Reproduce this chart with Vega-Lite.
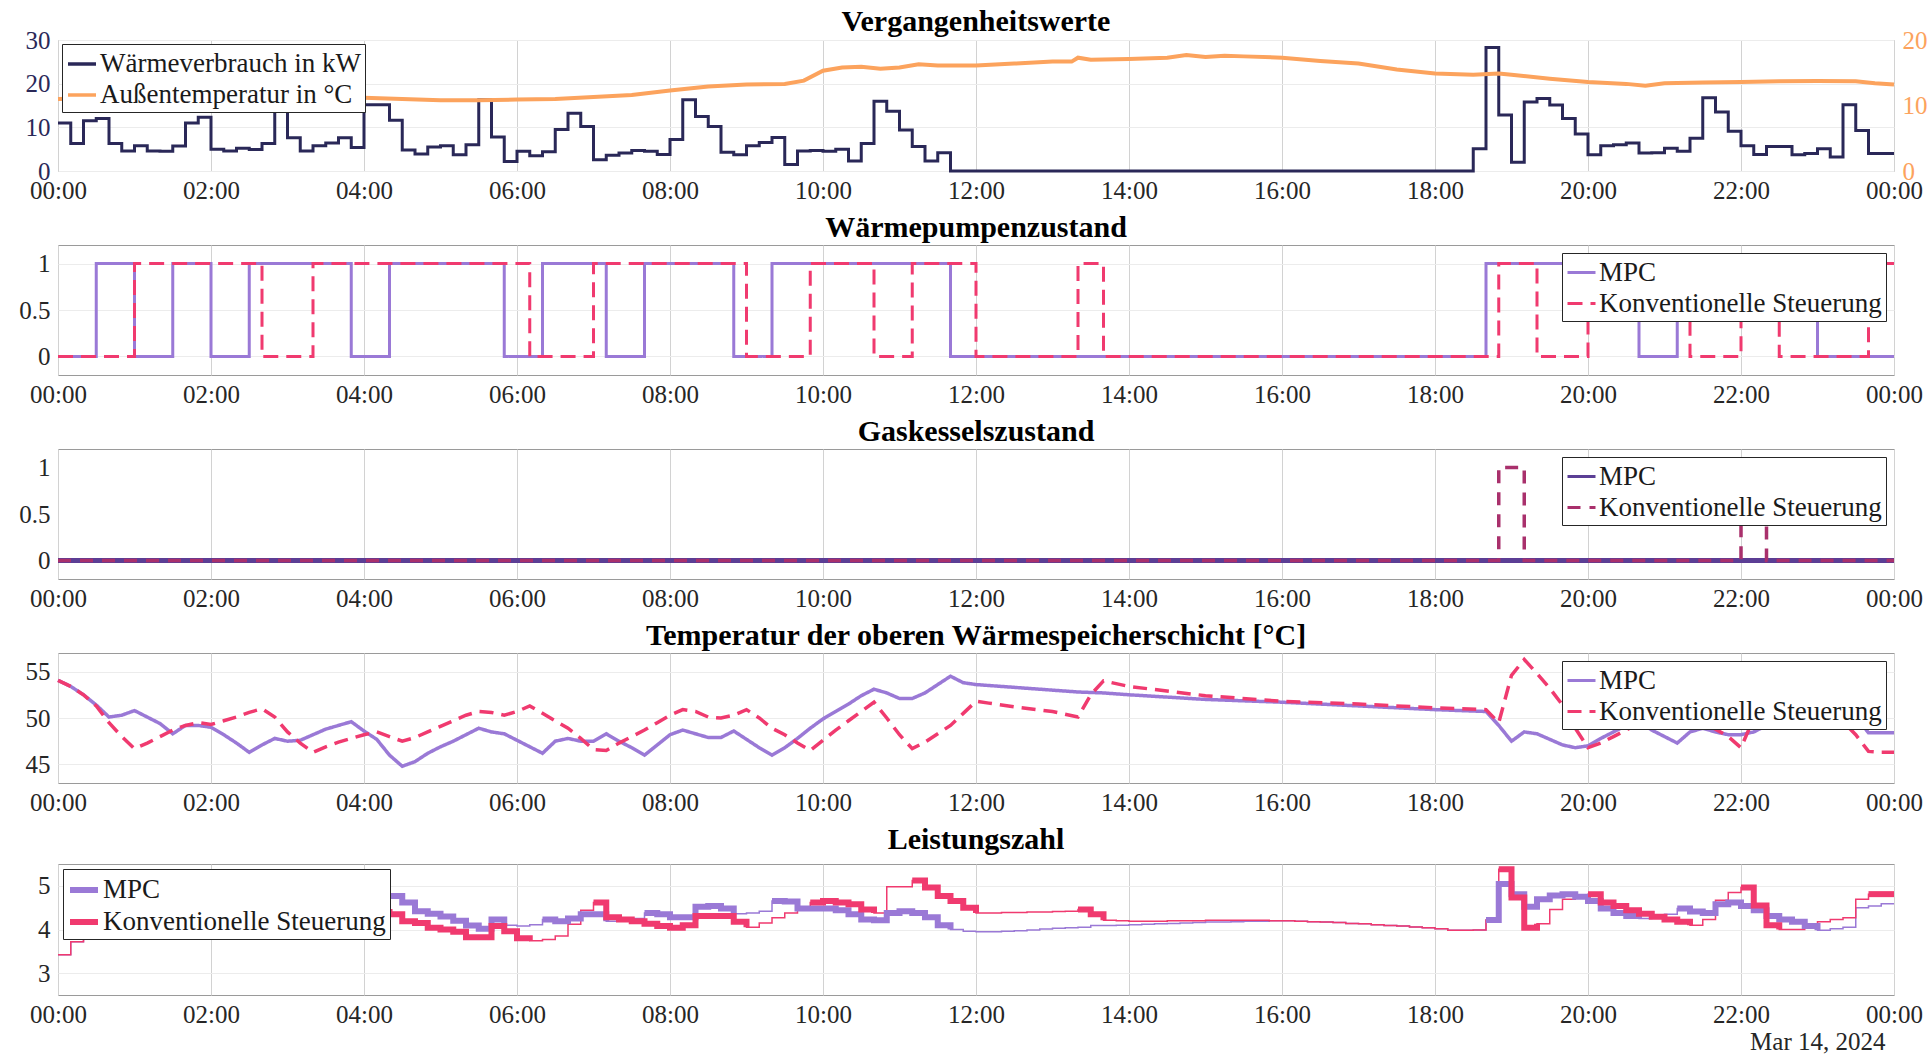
{
  "$schema": "https://vega.github.io/schema/vega-lite/v6.json",
  "padding": {"left": 12, "top": 6, "right": 0, "bottom": 0},
  "spacing": 8,
  "datasets": {
    "main": [
      {"m":0,"w":11,"hm":0,"hk":0,"gk":0,"cm":3.42,"ck":3.42},
      {"m":10,"w":6.3,"hm":0,"hk":0,"gk":0,"cm":3.72,"ck":3.72},
      {"m":20,"w":11.5,"hm":0,"hk":0,"gk":0,"cm":3.8,"ck":3.8},
      {"m":30,"w":12,"hm":1,"hk":0,"gk":0,"cm":3.88,"ck":3.84,"ms":"a"},
      {"m":40,"w":6.3,"hm":1,"hk":0,"gk":0,"cm":3.9,"ck":3.86,"ms":"a"},
      {"m":50,"w":4.6,"hm":1,"hk":0,"gk":0,"cm":3.92,"ck":3.88,"ms":"a"},
      {"m":60,"w":5.8,"hm":0,"hk":1,"gk":0,"cm":3.82,"ck":3.92,"ms":"a","ks":"A"},
      {"m":70,"w":4.6,"hm":0,"hk":1,"gk":0,"cm":3.84,"ck":3.95,"ks":"A"},
      {"m":80,"w":4.5,"hm":0,"hk":1,"gk":0,"cm":3.86,"ck":3.97,"ks":"A"},
      {"m":90,"w":5.7,"hm":1,"hk":1,"gk":0,"cm":3.9,"ck":3.98,"ms":"b","ks":"A"},
      {"m":100,"w":11,"hm":1,"hk":1,"gk":0,"cm":3.92,"ck":4.0,"ms":"b","ks":"A"},
      {"m":110,"w":12.3,"hm":1,"hk":1,"gk":0,"cm":3.95,"ck":3.98,"ms":"b","ks":"A"},
      {"m":120,"w":5,"hm":0,"hk":1,"gk":0,"cm":3.88,"ck":3.96,"ms":"b","ks":"A"},
      {"m":130,"w":4.6,"hm":0,"hk":1,"gk":0,"cm":3.86,"ck":3.95,"ks":"A"},
      {"m":140,"w":5.2,"hm":0,"hk":1,"gk":0,"cm":3.84,"ck":3.93,"ks":"A"},
      {"m":150,"w":4.9,"hm":1,"hk":1,"gk":0,"cm":3.95,"ck":3.9,"ms":"c","ks":"A"},
      {"m":160,"w":6.3,"hm":1,"hk":0,"gk":0,"cm":4.0,"ck":3.82,"ms":"c","ks":"A"},
      {"m":170,"w":19,"hm":1,"hk":0,"gk":0,"cm":4.1,"ck":3.82,"ms":"c"},
      {"m":180,"w":7.6,"hm":1,"hk":0,"gk":0,"cm":4.2,"ck":3.84,"ms":"c"},
      {"m":190,"w":4.6,"hm":1,"hk":0,"gk":0,"cm":4.3,"ck":3.86,"ms":"c"},
      {"m":200,"w":5.8,"hm":1,"hk":1,"gk":0,"cm":4.4,"ck":4.0,"ms":"c","ks":"B"},
      {"m":210,"w":6.4,"hm":1,"hk":1,"gk":0,"cm":4.5,"ck":4.1,"ms":"c","ks":"B"},
      {"m":220,"w":7.6,"hm":1,"hk":1,"gk":0,"cm":4.6,"ck":4.2,"ms":"c","ks":"B"},
      {"m":230,"w":5.4,"hm":0,"hk":1,"gk":0,"cm":4.7,"ck":4.3,"ms":"c","ks":"B"},
      {"m":240,"w":15.2,"hm":0,"hk":1,"gk":0,"cm":4.75,"ck":4.38,"ks":"B"},
      {"m":250,"w":15.2,"hm":0,"hk":1,"gk":0,"cm":4.8,"ck":4.4,"ks":"B"},
      {"m":260,"w":11.6,"hm":1,"hk":1,"gk":0,"cm":4.77,"ck":4.35,"ms":"d","ks":"B"},
      {"m":270,"w":4.8,"hm":1,"hk":1,"gk":0,"cm":4.62,"ck":4.19,"ms":"d","ks":"B"},
      {"m":280,"w":3.9,"hm":1,"hk":1,"gk":0,"cm":4.42,"ck":4.15,"ms":"d","ks":"B"},
      {"m":290,"w":5.5,"hm":1,"hk":1,"gk":0,"cm":4.36,"ck":4.04,"ms":"d","ks":"B"},
      {"m":300,"w":5.8,"hm":1,"hk":1,"gk":0,"cm":4.3,"ck":4.0,"ms":"d","ks":"B"},
      {"m":310,"w":3.7,"hm":1,"hk":1,"gk":0,"cm":4.2,"ck":3.95,"ms":"d","ks":"B"},
      {"m":320,"w":6,"hm":1,"hk":1,"gk":0,"cm":4.09,"ck":3.82,"ms":"d","ks":"B"},
      {"m":330,"w":16.3,"hm":1,"hk":1,"gk":0,"cm":4.02,"ck":3.82,"ms":"d","ks":"B"},
      {"m":340,"w":7.8,"hm":1,"hk":1,"gk":0,"cm":4.23,"ck":4.08,"ms":"d","ks":"B"},
      {"m":350,"w":2.2,"hm":0,"hk":1,"gk":0,"cm":4.1,"ck":3.96,"ms":"d","ks":"B"},
      {"m":360,"w":4.5,"hm":0,"hk":1,"gk":0,"cm":4.08,"ck":3.8,"ks":"B"},
      {"m":370,"w":3.5,"hm":0,"hk":0,"gk":0,"cm":4.11,"ck":3.74,"ks":"B"},
      {"m":380,"w":4.4,"hm":1,"hk":0,"gk":0,"cm":4.23,"ck":3.77,"ms":"e"},
      {"m":390,"w":9.5,"hm":1,"hk":0,"gk":0,"cm":4.19,"ck":3.85,"ms":"e"},
      {"m":400,"w":13.2,"hm":1,"hk":0,"gk":0,"cm":4.25,"ck":4.12,"ms":"e"},
      {"m":410,"w":10.2,"hm":1,"hk":0,"gk":0,"cm":4.35,"ck":4.44,"ms":"e"},
      {"m":420,"w":2.6,"hm":1,"hk":1,"gk":0,"cm":4.35,"ck":4.62,"ms":"e","ks":"C"},
      {"m":430,"w":3.6,"hm":0,"hk":1,"gk":0,"cm":4.19,"ck":4.28,"ms":"e","ks":"C"},
      {"m":440,"w":4.1,"hm":0,"hk":1,"gk":0,"cm":4.23,"ck":4.23,"ks":"C"},
      {"m":450,"w":4.7,"hm":0,"hk":1,"gk":0,"cm":4.25,"ck":4.19,"ks":"C"},
      {"m":460,"w":4.5,"hm":1,"hk":1,"gk":0,"cm":4.38,"ck":4.13,"ms":"f","ks":"C"},
      {"m":470,"w":3.8,"hm":1,"hk":1,"gk":0,"cm":4.35,"ck":4.08,"ms":"f","ks":"C"},
      {"m":480,"w":7.2,"hm":1,"hk":1,"gk":0,"cm":4.28,"ck":4.04,"ms":"f","ks":"C"},
      {"m":490,"w":16.3,"hm":1,"hk":1,"gk":0,"cm":4.28,"ck":4.1,"ms":"f","ks":"C"},
      {"m":500,"w":12.5,"hm":1,"hk":1,"gk":0,"cm":4.52,"ck":4.31,"ms":"f","ks":"C"},
      {"m":510,"w":10.2,"hm":1,"hk":1,"gk":0,"cm":4.54,"ck":4.31,"ms":"f","ks":"C"},
      {"m":520,"w":4.3,"hm":1,"hk":1,"gk":0,"cm":4.48,"ck":4.31,"ms":"f","ks":"C"},
      {"m":530,"w":3.7,"hm":0,"hk":1,"gk":0,"cm":4.36,"ck":4.18,"ms":"f","ks":"C"},
      {"m":540,"w":5.8,"hm":0,"hk":0,"gk":0,"cm":4.38,"ck":4.05,"ks":"C"},
      {"m":550,"w":6.5,"hm":0,"hk":0,"gk":0,"cm":4.42,"ck":4.15},
      {"m":560,"w":7.7,"hm":1,"hk":0,"gk":0,"cm":4.65,"ck":4.27,"ms":"g"},
      {"m":570,"w":1.5,"hm":1,"hk":0,"gk":0,"cm":4.64,"ck":4.38,"ms":"g"},
      {"m":580,"w":4.6,"hm":1,"hk":0,"gk":0,"cm":4.48,"ck":4.48,"ms":"g"},
      {"m":590,"w":4.7,"hm":1,"hk":1,"gk":0,"cm":4.48,"ck":4.62,"ms":"g","ks":"D"},
      {"m":600,"w":4.5,"hm":1,"hk":1,"gk":0,"cm":4.48,"ck":4.65,"ms":"g","ks":"D"},
      {"m":610,"w":5,"hm":1,"hk":1,"gk":0,"cm":4.44,"ck":4.62,"ms":"g","ks":"D"},
      {"m":620,"w":2.3,"hm":1,"hk":1,"gk":0,"cm":4.35,"ck":4.58,"ms":"g","ks":"D"},
      {"m":630,"w":6.3,"hm":1,"hk":1,"gk":0,"cm":4.23,"ck":4.46,"ms":"g","ks":"D"},
      {"m":640,"w":16,"hm":1,"hk":0,"gk":0,"cm":4.21,"ck":4.38,"ms":"g","ks":"D"},
      {"m":650,"w":13.7,"hm":1,"hk":0,"gk":0,"cm":4.38,"ck":4.98,"ms":"g"},
      {"m":660,"w":9.4,"hm":1,"hk":0,"gk":0,"cm":4.42,"ck":4.98,"ms":"g"},
      {"m":670,"w":5.6,"hm":1,"hk":1,"gk":0,"cm":4.38,"ck":5.12,"ms":"g","ks":"E"},
      {"m":680,"w":2.3,"hm":1,"hk":1,"gk":0,"cm":4.28,"ck":4.96,"ms":"g","ks":"E"},
      {"m":690,"w":4.2,"hm":1,"hk":1,"gk":0,"cm":4.1,"ck":4.77,"ms":"g","ks":"E"},
      {"m":700,"w":0,"hm":0,"hk":1,"gk":0,"cm":4.0,"ck":4.65,"ms":"g","ks":"E"},
      {"m":710,"w":0,"hm":0,"hk":1,"gk":0,"cm":3.96,"ck":4.5,"ks":"E"},
      {"m":720,"w":0,"hm":0,"hk":0,"gk":0,"cm":3.95,"ck":4.38,"ks":"E"},
      {"m":730,"w":0,"hm":0,"hk":0,"gk":0,"cm":3.95,"ck":4.38},
      {"m":740,"w":0,"hm":0,"hk":0,"gk":0,"cm":3.96,"ck":4.39},
      {"m":750,"w":0,"hm":0,"hk":0,"gk":0,"cm":3.97,"ck":4.39},
      {"m":760,"w":0,"hm":0,"hk":0,"gk":0,"cm":3.99,"ck":4.4},
      {"m":770,"w":0,"hm":0,"hk":0,"gk":0,"cm":4.01,"ck":4.4},
      {"m":780,"w":0,"hm":0,"hk":0,"gk":0,"cm":4.03,"ck":4.41},
      {"m":790,"w":0,"hm":0,"hk":0,"gk":0,"cm":4.04,"ck":4.42},
      {"m":800,"w":0,"hm":0,"hk":1,"gk":0,"cm":4.05,"ck":4.46,"ks":"F"},
      {"m":810,"w":0,"hm":0,"hk":1,"gk":0,"cm":4.09,"ck":4.35,"ks":"F"},
      {"m":820,"w":0,"hm":0,"hk":0,"gk":0,"cm":4.09,"ck":4.21,"ks":"F"},
      {"m":830,"w":0,"hm":0,"hk":0,"gk":0,"cm":4.1,"ck":4.2},
      {"m":840,"w":0,"hm":0,"hk":0,"gk":0,"cm":4.11,"ck":4.19},
      {"m":850,"w":0,"hm":0,"hk":0,"gk":0,"cm":4.12,"ck":4.19},
      {"m":860,"w":0,"hm":0,"hk":0,"gk":0,"cm":4.13,"ck":4.19},
      {"m":870,"w":0,"hm":0,"hk":0,"gk":0,"cm":4.14,"ck":4.2},
      {"m":880,"w":0,"hm":0,"hk":0,"gk":0,"cm":4.15,"ck":4.2},
      {"m":890,"w":0,"hm":0,"hk":0,"gk":0,"cm":4.16,"ck":4.2},
      {"m":900,"w":0,"hm":0,"hk":0,"gk":0,"cm":4.17,"ck":4.21},
      {"m":910,"w":0,"hm":0,"hk":0,"gk":0,"cm":4.17,"ck":4.21},
      {"m":920,"w":0,"hm":0,"hk":0,"gk":0,"cm":4.18,"ck":4.21},
      {"m":930,"w":0,"hm":0,"hk":0,"gk":0,"cm":4.19,"ck":4.21},
      {"m":940,"w":0,"hm":0,"hk":0,"gk":0,"cm":4.19,"ck":4.21},
      {"m":950,"w":0,"hm":0,"hk":0,"gk":0,"cm":4.2,"ck":4.2},
      {"m":960,"w":0,"hm":0,"hk":0,"gk":0,"cm":4.2,"ck":4.2},
      {"m":970,"w":0,"hm":0,"hk":0,"gk":0,"cm":4.19,"ck":4.19},
      {"m":980,"w":0,"hm":0,"hk":0,"gk":0,"cm":4.18,"ck":4.18},
      {"m":990,"w":0,"hm":0,"hk":0,"gk":0,"cm":4.17,"ck":4.17},
      {"m":1000,"w":0,"hm":0,"hk":0,"gk":0,"cm":4.16,"ck":4.16},
      {"m":1010,"w":0,"hm":0,"hk":0,"gk":0,"cm":4.14,"ck":4.14},
      {"m":1020,"w":0,"hm":0,"hk":0,"gk":0,"cm":4.13,"ck":4.13},
      {"m":1030,"w":0,"hm":0,"hk":0,"gk":0,"cm":4.11,"ck":4.11},
      {"m":1040,"w":0,"hm":0,"hk":0,"gk":0,"cm":4.09,"ck":4.09},
      {"m":1050,"w":0,"hm":0,"hk":0,"gk":0,"cm":4.08,"ck":4.08},
      {"m":1060,"w":0,"hm":0,"hk":0,"gk":0,"cm":4.06,"ck":4.06},
      {"m":1070,"w":0,"hm":0,"hk":0,"gk":0,"cm":4.04,"ck":4.04},
      {"m":1080,"w":0,"hm":0,"hk":0,"gk":0,"cm":4.02,"ck":4.02},
      {"m":1090,"w":0,"hm":0,"hk":0,"gk":0,"cm":3.98,"ck":3.98},
      {"m":1100,"w":0,"hm":0,"hk":0,"gk":0,"cm":3.98,"ck":3.98},
      {"m":1110,"w":5.1,"hm":0,"hk":0,"gk":0,"cm":3.99,"ck":3.99},
      {"m":1120,"w":28.3,"hm":1,"hk":0,"gk":0,"cm":4.22,"ck":4.22,"ms":"h"},
      {"m":1130,"w":12.8,"hm":1,"hk":1,"gk":1,"cm":5.04,"ck":5.38,"ms":"h","ks":"G"},
      {"m":1140,"w":2,"hm":1,"hk":1,"gk":1,"cm":4.81,"ck":4.73,"ms":"h","ks":"G"},
      {"m":1150,"w":15.8,"hm":1,"hk":1,"gk":0,"cm":4.52,"ck":4.04,"ms":"h","ks":"G"},
      {"m":1160,"w":16.6,"hm":1,"hk":0,"gk":0,"cm":4.69,"ck":4.13,"ms":"h","ks":"G"},
      {"m":1170,"w":15.1,"hm":1,"hk":0,"gk":0,"cm":4.78,"ck":4.46,"ms":"h"},
      {"m":1180,"w":12,"hm":1,"hk":0,"gk":0,"cm":4.81,"ck":4.69,"ms":"h"},
      {"m":1190,"w":8.5,"hm":1,"hk":0,"gk":0,"cm":4.75,"ck":4.73,"ms":"h"},
      {"m":1200,"w":3.7,"hm":1,"hk":1,"gk":0,"cm":4.65,"ck":4.81,"ms":"h","ks":"H"},
      {"m":1210,"w":5.8,"hm":1,"hk":1,"gk":0,"cm":4.48,"ck":4.62,"ms":"h","ks":"H"},
      {"m":1220,"w":6,"hm":1,"hk":1,"gk":0,"cm":4.38,"ck":4.54,"ms":"h","ks":"H"},
      {"m":1230,"w":6.4,"hm":1,"hk":1,"gk":0,"cm":4.31,"ck":4.44,"ms":"h","ks":"H"},
      {"m":1240,"w":4.1,"hm":0,"hk":1,"gk":0,"cm":4.25,"ck":4.36,"ms":"h","ks":"H"},
      {"m":1250,"w":4.2,"hm":0,"hk":1,"gk":0,"cm":4.27,"ck":4.29,"ks":"H"},
      {"m":1260,"w":5.2,"hm":0,"hk":1,"gk":0,"cm":4.35,"ck":4.23,"ks":"H"},
      {"m":1270,"w":4.5,"hm":1,"hk":1,"gk":0,"cm":4.48,"ck":4.18,"ms":"i","ks":"H"},
      {"m":1280,"w":7.5,"hm":1,"hk":0,"gk":0,"cm":4.41,"ck":4.1,"ms":"i","ks":"H"},
      {"m":1290,"w":16.8,"hm":1,"hk":0,"gk":0,"cm":4.38,"ck":4.23,"ms":"i"},
      {"m":1300,"w":13.5,"hm":1,"hk":0,"gk":0,"cm":4.58,"ck":4.67,"ms":"i"},
      {"m":1310,"w":9.1,"hm":1,"hk":0,"gk":0,"cm":4.62,"ck":4.85,"ms":"i"},
      {"m":1320,"w":5.8,"hm":1,"hk":1,"gk":1,"cm":4.54,"ck":4.96,"ms":"i","ks":"I"},
      {"m":1330,"w":3.8,"hm":1,"hk":1,"gk":1,"cm":4.44,"ck":4.55,"ms":"i","ks":"I"},
      {"m":1340,"w":5.6,"hm":1,"hk":1,"gk":0,"cm":4.31,"ck":4.1,"ms":"i","ks":"I"},
      {"m":1350,"w":5.6,"hm":1,"hk":0,"gk":0,"cm":4.23,"ck":4.0,"ms":"i","ks":"I"},
      {"m":1360,"w":3.7,"hm":1,"hk":0,"gk":0,"cm":4.18,"ck":4.0,"ms":"i"},
      {"m":1370,"w":4,"hm":1,"hk":0,"gk":0,"cm":4.08,"ck":4.12,"ms":"i"},
      {"m":1380,"w":5.1,"hm":0,"hk":0,"gk":0,"cm":3.98,"ck":4.18,"ms":"i"},
      {"m":1390,"w":3.2,"hm":0,"hk":0,"gk":0,"cm":4.02,"ck":4.23},
      {"m":1400,"w":15.2,"hm":0,"hk":0,"gk":0,"cm":4.05,"ck":4.27},
      {"m":1410,"w":9.3,"hm":0,"hk":0,"gk":0,"cm":4.5,"ck":4.69},
      {"m":1420,"w":4,"hm":0,"hk":1,"gk":0,"cm":4.54,"ck":4.81,"ks":"J"},
      {"m":1430,"w":4,"hm":0,"hk":1,"gk":0,"cm":4.59,"ck":4.81,"ks":"J"},
      {"m":1440,"w":4,"hm":0,"hk":1,"gk":0,"cm":4.59,"ck":4.81,"ks":"J"}
    ],
    "temp": [
      {"m":0,"a":54.06,"b":54.06},{"m":10,"a":53.4,"b":53.4},{"m":20,"a":52.5,"b":52.5},{"m":30,"a":51.4,"b":51.3},
      {"m":40,"a":50.1,"b":49.5},{"m":50,"a":50.3,"b":48.0},{"m":60,"a":50.8,"b":46.7},{"m":70,"a":50.1,"b":47.3},
      {"m":80,"a":49.4,"b":48.0},{"m":90,"a":48.3,"b":48.7},{"m":100,"a":49.2,"b":49.2},{"m":110,"a":49.2,"b":49.5},
      {"m":120,"a":49.0,"b":49.3},{"m":130,"a":48.2,"b":49.7},{"m":140,"a":47.3,"b":50.1},{"m":150,"a":46.3,"b":50.6},
      {"m":160,"a":47.1,"b":51.0},{"m":170,"a":47.8,"b":50.1},{"m":180,"a":47.5,"b":48.5},{"m":190,"a":47.6,"b":47.3},
      {"m":200,"a":48.2,"b":46.3},{"m":210,"a":48.8,"b":46.9},{"m":220,"a":49.2,"b":47.4},{"m":230,"a":49.6,"b":47.8},
      {"m":240,"a":48.6,"b":48.2},{"m":250,"a":47.7,"b":48.5},{"m":260,"a":46.0,"b":48.0},{"m":270,"a":44.8,"b":47.5},
      {"m":280,"a":45.3,"b":47.9},{"m":290,"a":46.2,"b":48.5},{"m":300,"a":46.9,"b":49.1},{"m":310,"a":47.5,"b":49.7},
      {"m":320,"a":48.2,"b":50.3},{"m":330,"a":48.9,"b":50.7},{"m":340,"a":48.5,"b":50.6},{"m":350,"a":48.3,"b":50.3},
      {"m":360,"a":47.6,"b":50.7},{"m":370,"a":46.9,"b":51.3},{"m":380,"a":46.2,"b":50.5},{"m":390,"a":47.5,"b":49.7},
      {"m":400,"a":47.8,"b":48.9},{"m":410,"a":47.5,"b":47.8},{"m":420,"a":47.5,"b":46.6},{"m":430,"a":48.3,"b":46.5},
      {"m":440,"a":47.5,"b":47.3},{"m":450,"a":46.8,"b":48.0},{"m":460,"a":46.0,"b":48.7},{"m":470,"a":47.1,"b":49.5},
      {"m":480,"a":48.2,"b":50.3},{"m":490,"a":48.7,"b":50.9},{"m":500,"a":48.3,"b":50.7},{"m":510,"a":47.9,"b":50.1},
      {"m":520,"a":47.9,"b":50.0},{"m":530,"a":48.6,"b":50.3},{"m":540,"a":47.7,"b":50.9},{"m":550,"a":46.8,"b":50.0},
      {"m":560,"a":46.0,"b":48.9},{"m":570,"a":46.8,"b":48.2},{"m":580,"a":47.8,"b":47.3},{"m":590,"a":48.9,"b":46.5},
      {"m":600,"a":49.9,"b":47.6},{"m":610,"a":50.7,"b":48.7},{"m":620,"a":51.5,"b":49.7},{"m":630,"a":52.4,"b":50.7},
      {"m":640,"a":53.1,"b":51.7},{"m":650,"a":52.7,"b":50.0},{"m":660,"a":52.1,"b":48.2},{"m":670,"a":52.1,"b":46.7},
      {"m":680,"a":52.7,"b":47.4},{"m":690,"a":53.6,"b":48.3},{"m":700,"a":54.5,"b":49.2},{"m":710,"a":53.8,"b":50.5},
      {"m":720,"a":53.6,"b":51.8},{"m":730,"a":53.5,"b":51.6},{"m":750,"a":53.3,"b":51.2},{"m":780,"a":53.0,"b":50.7},
      {"m":800,"a":52.8,"b":50.1},{"m":810,"a":52.75,"b":52.5},{"m":820,"a":52.7,"b":54.0},{"m":840,"a":52.5,"b":53.4},
      {"m":900,"a":52.0,"b":52.4},{"m":960,"a":51.7,"b":51.8},{"m":1020,"a":51.3,"b":51.5},{"m":1080,"a":50.9,"b":51.1},
      {"m":1120,"a":50.7,"b":50.9},{"m":1130,"a":49.2,"b":49.5},{"m":1140,"a":47.5,"b":54.6},{"m":1150,"a":48.5,"b":56.3},
      {"m":1160,"a":48.3,"b":54.8},{"m":1170,"a":47.7,"b":53.2},{"m":1180,"a":47.1,"b":51.4},{"m":1190,"a":46.8,"b":48.9},
      {"m":1200,"a":47.0,"b":46.8},{"m":1210,"a":47.8,"b":47.3},{"m":1220,"a":48.5,"b":48.0},{"m":1230,"a":49.2,"b":48.7},
      {"m":1240,"a":49.6,"b":49.4},{"m":1250,"a":48.7,"b":49.8},{"m":1260,"a":48.0,"b":50.1},{"m":1270,"a":47.3,"b":50.3},
      {"m":1280,"a":48.5,"b":50.0},{"m":1290,"a":48.9,"b":49.5},{"m":1300,"a":48.5,"b":48.8},{"m":1310,"a":48.2,"b":48.0},
      {"m":1320,"a":48.2,"b":46.8},{"m":1330,"a":48.5,"b":50.0},{"m":1340,"a":49.2,"b":51.0},{"m":1350,"a":50.5,"b":51.5},
      {"m":1360,"a":51.0,"b":51.8},{"m":1370,"a":51.2,"b":51.6},{"m":1380,"a":51.0,"b":51.2},{"m":1390,"a":50.6,"b":50.6},
      {"m":1400,"a":50.4,"b":49.6},{"m":1410,"a":50.2,"b":48.2},{"m":1420,"a":48.4,"b":46.4},{"m":1430,"a":48.4,"b":46.3},
      {"m":1440,"a":48.4,"b":46.3}
    ],
    "out": [
      {"m":0,"T":11.0},{"m":30,"T":11.1},{"m":60,"T":11.2},{"m":90,"T":11.3},{"m":120,"T":11.3},{"m":150,"T":11.3},
      {"m":180,"T":11.2},{"m":210,"T":11.2},{"m":240,"T":11.2},{"m":270,"T":11.0},{"m":300,"T":10.8},{"m":330,"T":10.8},
      {"m":360,"T":10.9},{"m":390,"T":11.0},{"m":420,"T":11.3},{"m":450,"T":11.6},{"m":480,"T":12.3},{"m":510,"T":12.9},
      {"m":540,"T":13.2},{"m":570,"T":13.3},{"m":585,"T":13.8},{"m":600,"T":15.3},{"m":615,"T":15.8},{"m":630,"T":15.9},
      {"m":645,"T":15.6},{"m":660,"T":15.8},{"m":675,"T":16.3},{"m":690,"T":16.1},{"m":720,"T":16.1},{"m":750,"T":16.4},
      {"m":780,"T":16.7},{"m":795,"T":16.7},{"m":800,"T":17.3},{"m":810,"T":17.0},{"m":840,"T":17.1},{"m":870,"T":17.3},
      {"m":885,"T":17.7},{"m":900,"T":17.4},{"m":915,"T":17.6},{"m":930,"T":17.5},{"m":960,"T":17.3},{"m":990,"T":16.8},
      {"m":1020,"T":16.4},{"m":1050,"T":15.5},{"m":1080,"T":14.9},{"m":1110,"T":14.7},{"m":1130,"T":14.9},{"m":1140,"T":14.7},
      {"m":1170,"T":14.1},{"m":1200,"T":13.6},{"m":1230,"T":13.3},{"m":1245,"T":13.0},{"m":1260,"T":13.4},{"m":1290,"T":13.5},
      {"m":1320,"T":13.6},{"m":1350,"T":13.7},{"m":1380,"T":13.75},{"m":1410,"T":13.7},{"m":1425,"T":13.4},{"m":1440,"T":13.2}
    ]
  },
  "vconcat": [
    {
      "title": {"text": "Vergangenheitswerte", "offset": -9},
      "width": 1836, "height": 131,
      "encoding": {
        "x": {"field": "m", "type": "quantitative", "scale": {"domain": [0, 1440], "nice": false, "zero": false},
              "axis": {"values": [0,120,240,360,480,600,720,840,960,1080,1200,1320,1440], "labelExpr": "(floor(datum.value / 60) % 24 < 10 ? '0' : '') + (floor(datum.value / 60) % 24) + ':00'", "title": null}}
      },
      "layer": [
        {
          "data": {"name": "main"},
          "mark": {"type": "line", "interpolate": "step-after", "strokeWidth": 3},
          "encoding": {
            "y": {"field": "w", "type": "quantitative", "title": null, "scale": {"domain": [0, 30], "nice": false},
                  "axis": {"values": [0, 10, 20, 30], "title": null, "labelColor": "#2a2858"}},
            "color": {"datum": "Wärmeverbrauch in kW",
                      "scale": {"domain": ["Wärmeverbrauch in kW", "Außentemperatur in °C"], "range": ["#2a2858", "#fca35d"]},
                      "legend": {"orient": "top-left", "offset": 4, "title": null, "symbolStrokeWidth": 3.5}}
          }
        },
        {
          "data": {"name": "out"},
          "mark": {"type": "line", "strokeWidth": 4},
          "encoding": {
            "y": {"field": "T", "type": "quantitative", "title": null, "scale": {"domain": [0, 20], "nice": false},
                  "axis": {"orient": "right", "values": [0, 10, 20], "title": null, "grid": false, "labelColor": "#fca35d", "minExtent": 30, "maxExtent": 36}},
            "color": {"datum": "Außentemperatur in °C"}
          }
        }
      ],
      "resolve": {"scale": {"y": "independent"}}
    },
    {
      "title": "Wärmepumpenzustand",
      "data": {"name": "main"},
      "width": 1836, "height": 130,
      "encoding": {
        "x": {"field": "m", "type": "quantitative", "scale": {"domain": [0, 1440], "nice": false, "zero": false},
              "axis": {"values": [0,120,240,360,480,600,720,840,960,1080,1200,1320,1440], "labelExpr": "(floor(datum.value / 60) % 24 < 10 ? '0' : '') + (floor(datum.value / 60) % 24) + ':00'", "title": null}}
      },
      "layer": [
        {
          "mark": {"type": "line", "interpolate": "step-after", "strokeWidth": 3},
          "encoding": {
            "y": {"field": "hm", "type": "quantitative", "title": null, "scale": {"domain": [-0.2, 1.2], "nice": false, "zero": false},
                  "axis": {"values": [0, 0.5, 1], "format": "~g", "title": null}},
            "color": {"datum": "MPC", "scale": {"domain": ["MPC", "Konventionelle Steuerung"], "range": ["#9a79d6", "#f03a6f"]},
                      "legend": {"orient": "top-right", "offset": 8, "title": null}},
            "strokeDash": {"datum": "MPC", "scale": {"domain": ["MPC", "Konventionelle Steuerung"], "range": [[1, 0], [15, 8]]},
                      "legend": {"orient": "top-right", "offset": 8, "title": null}}
          }
        },
        {
          "mark": {"type": "line", "interpolate": "step-after", "strokeWidth": 3},
          "encoding": {
            "y": {"field": "hk", "type": "quantitative", "title": null},
            "color": {"datum": "Konventionelle Steuerung"},
            "strokeDash": {"datum": "Konventionelle Steuerung"}
          }
        }
      ]
    },
    {
      "title": "Gaskesselszustand",
      "data": {"name": "main"},
      "width": 1836, "height": 130,
      "encoding": {
        "x": {"field": "m", "type": "quantitative", "scale": {"domain": [0, 1440], "nice": false, "zero": false},
              "axis": {"values": [0,120,240,360,480,600,720,840,960,1080,1200,1320,1440], "labelExpr": "(floor(datum.value / 60) % 24 < 10 ? '0' : '') + (floor(datum.value / 60) % 24) + ':00'", "title": null}}
      },
      "layer": [
        {
          "mark": {"type": "rule", "strokeWidth": 3.5},
          "encoding": {
            "x": {"datum": 0},
            "x2": {"datum": 1440},
            "y": {"datum": 0, "type": "quantitative", "title": null, "scale": {"domain": [-0.2, 1.2], "nice": false, "zero": false},
                  "axis": {"values": [0, 0.5, 1], "format": "~g", "title": null}},
            "color": {"datum": "MPC", "scale": {"domain": ["MPC", "Konventionelle Steuerung"], "range": ["#5b3f95", "#a9306c"]},
                      "legend": {"orient": "top-right", "offset": 8, "title": null}},
            "strokeDash": {"datum": "MPC", "scale": {"domain": ["MPC", "Konventionelle Steuerung"], "range": [[1, 0], [13, 9]]},
                      "legend": {"orient": "top-right", "offset": 8, "title": null}}
          }
        },
        {
          "mark": {"type": "line", "interpolate": "step-after", "strokeWidth": 3.5},
          "encoding": {
            "y": {"field": "gk", "type": "quantitative", "title": null},
            "color": {"datum": "Konventionelle Steuerung"},
            "strokeDash": {"datum": "Konventionelle Steuerung"}
          }
        }
      ]
    },
    {
      "title": "Temperatur der oberen Wärmespeicherschicht [°C]",
      "data": {"name": "temp"},
      "width": 1836, "height": 130,
      "encoding": {
        "x": {"field": "m", "type": "quantitative", "scale": {"domain": [0, 1440], "nice": false, "zero": false},
              "axis": {"values": [0,120,240,360,480,600,720,840,960,1080,1200,1320,1440], "labelExpr": "(floor(datum.value / 60) % 24 < 10 ? '0' : '') + (floor(datum.value / 60) % 24) + ':00'", "title": null}}
      },
      "layer": [
        {
          "mark": {"type": "line", "strokeWidth": 3.5},
          "encoding": {
            "y": {"field": "a", "type": "quantitative", "title": null, "scale": {"domain": [43, 57], "nice": false, "zero": false},
                  "axis": {"values": [45, 50, 55], "title": null}},
            "color": {"datum": "MPC", "scale": {"domain": ["MPC", "Konventionelle Steuerung"], "range": ["#9a79d6", "#f03a6f"]},
                      "legend": {"orient": "top-right", "offset": 8, "title": null}},
            "strokeDash": {"datum": "MPC", "scale": {"domain": ["MPC", "Konventionelle Steuerung"], "range": [[1, 0], [14, 8]]},
                      "legend": {"orient": "top-right", "offset": 8, "title": null}}
          }
        },
        {
          "mark": {"type": "line", "strokeWidth": 3.5},
          "encoding": {
            "y": {"field": "b", "type": "quantitative", "title": null},
            "color": {"datum": "Konventionelle Steuerung"},
            "strokeDash": {"datum": "Konventionelle Steuerung"}
          }
        }
      ]
    },
    {
      "title": "Leistungszahl",
      "data": {"name": "main"},
      "width": 1836, "height": 131,
      "encoding": {
        "x": {"field": "m", "type": "quantitative", "scale": {"domain": [0, 1440], "nice": false, "zero": false},
              "axis": {"values": [0,120,240,360,480,600,720,840,960,1080,1200,1320,1440], "labelExpr": "(floor(datum.value / 60) % 24 < 10 ? '0' : '') + (floor(datum.value / 60) % 24) + ':00'",
                       "title": "Mar 14, 2024", "titleX": 1827, "titleAlign": "right", "titlePadding": 2}}
      },
      "layer": [
        {
          "mark": {"type": "line", "interpolate": "step-after", "strokeWidth": 1.5},
          "encoding": {
            "y": {"field": "cm", "type": "quantitative", "title": null, "scale": {"domain": [2.5, 5.5], "nice": false, "zero": false},
                  "axis": {"values": [3, 4, 5], "title": null}},
            "color": {"datum": "MPC", "scale": {"domain": ["MPC", "Konventionelle Steuerung"], "range": ["#9a79d6", "#f03a6f"]},
                      "legend": {"orient": "top-left", "offset": 5, "title": null, "symbolStrokeWidth": 6}}
          }
        },
        {
          "mark": {"type": "line", "interpolate": "step-after", "strokeWidth": 1.5},
          "encoding": {
            "y": {"field": "ck", "type": "quantitative", "title": null},
            "color": {"datum": "Konventionelle Steuerung"}
          }
        },
        {
          "transform": [{"filter": "isValid(datum.ms)"}],
          "mark": {"type": "line", "interpolate": "step-after", "strokeWidth": 6},
          "encoding": {
            "y": {"field": "cm", "type": "quantitative", "title": null},
            "detail": {"field": "ms"},
            "color": {"datum": "MPC"}
          }
        },
        {
          "transform": [{"filter": "isValid(datum.ks)"}],
          "mark": {"type": "line", "interpolate": "step-after", "strokeWidth": 6},
          "encoding": {
            "y": {"field": "ck", "type": "quantitative", "title": null},
            "detail": {"field": "ks"},
            "color": {"datum": "Konventionelle Steuerung"}
          }
        }
      ]
    }
  ],
  "resolve": {"scale": {"color": "independent", "strokeDash": "independent"}},
  "config": {
    "font": "Liberation Serif",
    "background": "white",
    "view": {"stroke": "#9a9a9a", "strokeWidth": 1},
    "axis": {
      "labelFont": "Liberation Serif", "labelFontSize": 25, "labelColor": "#262626",
      "domain": false, "ticks": false, "labelPadding": 8,
      "titleFont": "Liberation Serif", "titleFontSize": 25, "titleFontWeight": "normal", "titleColor": "#262626"
    },
    "axisX": {"gridColor": "#d2d2d2", "labelPadding": 7, "labelFlush": false, "labelOverlap": false},
    "axisY": {"gridColor": "#ececec", "minExtent": 45, "maxExtent": 45},
    "title": {"font": "Liberation Serif", "fontSize": 30, "fontWeight": "bold", "color": "#000000", "offset": 2, "frame": "group", "anchor": "middle"},
    "legend": {
      "fillColor": "white", "strokeColor": "#262626", "strokeWidth": 1, "padding": 4,
      "labelFont": "Liberation Serif", "labelFontSize": 27, "labelColor": "#1a1a1a",
      "symbolType": "stroke", "symbolSize": 784, "symbolStrokeWidth": 3,
      "labelOffset": 2, "rowPadding": 2, "labelLimit": 0
    }
  }
}
